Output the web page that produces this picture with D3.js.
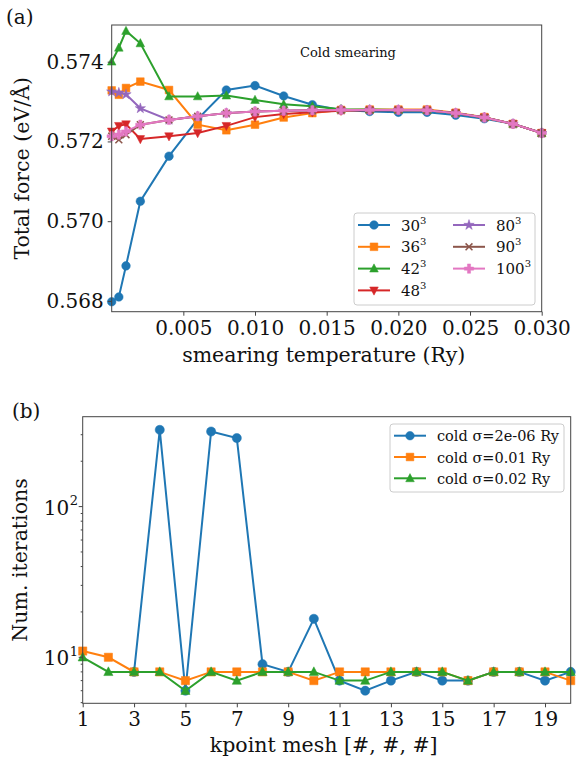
<!DOCTYPE html>
<html>
<head>
<meta charset="utf-8">
<script src="https://cdn.jsdelivr.net/npm/d3@7"></script>
<style>
  body { margin: 0; background: #fff; }
  text { font-family: "DejaVu Serif", serif; fill: #111; }
</style>
</head>
<body>
<div id="chart"></div>
<script>
////////////////////////////////////////////////////////////////////////
// Data for panel (a): total force vs smearing temperature
let smearing = [0.000002, 0.0005, 0.001, 0.002, 0.004, 0.006, 0.008, 0.010, 0.012,
  0.014, 0.016, 0.018, 0.020, 0.022, 0.024, 0.026, 0.028, 0.030];

let meshLabels = ["30", "36", "42", "48", "80", "90", "100"];

let force30 = [0.56798, 0.56810, 0.56888, 0.57050, 0.57163, 0.57256, 0.57329, 0.57340, 0.57314,
  0.57292, 0.57279, 0.57275, 0.57273, 0.57273, 0.57266, 0.57257, 0.57244, 0.57221];
let force36 = [0.57328, 0.57317, 0.57334, 0.57350, 0.57329, 0.57242, 0.57228, 0.57242, 0.57260,
  0.57271, 0.57279, 0.57280, 0.57280, 0.57280, 0.57272, 0.57261, 0.57244, 0.57221];
let force42 = [0.57400, 0.57435, 0.57477, 0.57446, 0.57313, 0.57313, 0.57315, 0.57304, 0.57293,
  0.57288, 0.57281, 0.57280, 0.57279, 0.57278, 0.57271, 0.57260, 0.57244, 0.57221];
let force48 = [0.57225, 0.57239, 0.57243, 0.57206, 0.57213, 0.57221, 0.57239, 0.57261, 0.57269,
  0.57273, 0.57277, 0.57278, 0.57278, 0.57278, 0.57271, 0.57260, 0.57244, 0.57221];
let force80 = [0.57325, 0.57322, 0.57318, 0.57283, 0.57254, 0.57263, 0.57271, 0.57275, 0.57277,
  0.57278, 0.57279, 0.57279, 0.57279, 0.57278, 0.57271, 0.57260, 0.57244, 0.57221];
let force90 = [0.57213, 0.57204, 0.57217, 0.57242, 0.57254, 0.57263, 0.57271, 0.57275, 0.57277,
  0.57278, 0.57279, 0.57279, 0.57279, 0.57278, 0.57271, 0.57260, 0.57244, 0.57221];
let force100 = [0.57213, 0.57217, 0.57225, 0.57242, 0.57254, 0.57263, 0.57271, 0.57275, 0.57277,
  0.57278, 0.57279, 0.57279, 0.57279, 0.57278, 0.57271, 0.57260, 0.57244, 0.57221];

let forceTicksX = [0.005, 0.010, 0.015, 0.020, 0.025, 0.030];
let forceTicksY = [0.568, 0.570, 0.572, 0.574];

////////////////////////////////////////////////////////////////////////
// Data for panel (b): number of iterations vs kpoint mesh
let kpoints = d3.range(1, 21);
let sigmaLabels = ["cold \u03c3=2e-06 Ry", "cold \u03c3=0.01 Ry", "cold \u03c3=0.02 Ry"];

let iterSmall = [null, null, 8, 323, 6, 315, 285, 9, 8, 18, 7, 6, 7, 8, 7, 7, 8, 8, 7, 8];
let iter001 = [11, 10, 8, 8, 7, 8, 8, 8, 8, 7, 8, 8, 8, 8, 8, 7, 8, 8, 8, 7];
let iter002 = [10, 8, 8, 8, 6, 8, 7, 8, 8, 8, 7, 7, 8, 8, 8, 7, 8, 8, 8, 8];

let kTicks = [1, 3, 5, 7, 9, 11, 13, 15, 17, 19];

////////////////////////////////////////////////////////////////////////
// canvas
let width = 587;
let height = 764;
let fontSize = 20;
let colors = ["#1f77b4", "#ff7f0e", "#2ca02c", "#d62728", "#9467bd", "#8c564b", "#e377c2"];

let svg = d3.select("#chart")
  .append("svg")
  .attr("width", width).attr("height", height);

// marker path for each matplotlib style, centred on 0,0
function marker(kind, s) {
  if (kind == "o") return d3.symbol(d3.symbolCircle, Math.PI * s * s)();
  if (kind == "s") return d3.symbol(d3.symbolSquare, 4 * s * s * 0.8)();
  if (kind == "^") return `M0,${-s * 1.1}L${s},${s * 0.8}L${-s},${s * 0.8}Z`;
  if (kind == "v") return `M0,${s * 1.1}L${s},${-s * 0.8}L${-s},${-s * 0.8}Z`;
  if (kind == "*") return d3.symbol(d3.symbolStar, s * s * 1.8)();
  if (kind == "x") return `M${-s * 0.8},${-s * 0.8}L${s * 0.8},${s * 0.8}M${-s * 0.8},${s * 0.8}L${s * 0.8},${-s * 0.8}`;
  if (kind == "P") return d3.symbol(d3.symbolCross, s * s * 2.6)();
}

function drawMarkers(g, pts, kind, color, s) {
  g.selectAll(null)
    .data(pts)
    .enter()
    .append("path")
    .attr("d", marker(kind, s))
    .attr("transform", d => `translate(${d[0]},${d[1]})`)
    .attr("fill", kind == "x" ? "none" : color)
    .attr("stroke", color)
    .attr("stroke-width", kind == "x" ? 1.5 : 0.5);
}

function supLabel(sel, base, sup, supSize) {
  sel.append("tspan").text(base);
  sel.append("tspan").text(sup).attr("font-size", supSize).attr("dy", -7);
}

function styleAxis(ax) {
  ax.select(".domain").remove();
  ax.selectAll("line").attr("stroke", "#444");
  ax.selectAll("text").attr("font-size", fontSize).attr("font-family", "DejaVu Serif").attr("fill", "#111");
}

////////////////////////////////////////////////////////////////////////
// Panel (a)
let a = { left: 111.7, right: 541.7, top: 25, bottom: 311.7 };

let xA = d3.scaleLinear().domain([0.000002, 0.030]).range([a.left, a.right]);
let yA = d3.scaleLinear().domain([0.56773, 0.57492]).range([a.bottom, a.top]);

let gA = svg.append("g");

let forceSeries = [force30, force36, force42, force48, force80, force90, force100];
let forceMarkers = ["o", "s", "^", "v", "*", "x", "P"];

forceSeries.forEach(function (series, i) {
  let pts = series.map((v, j) => [xA(smearing[j]), yA(v)]);
  gA.append("path")
    .attr("d", d3.line()(pts))
    .attr("fill", "none")
    .attr("stroke", colors[i])
    .attr("stroke-width", 2);
  drawMarkers(gA, pts, forceMarkers[i], colors[i], 4.3);
});

// frame
gA.append("rect")
  .attr("x", a.left).attr("y", a.top)
  .attr("width", a.right - a.left).attr("height", a.bottom - a.top)
  .attr("fill", "none").attr("stroke", "#444").attr("stroke-width", 1);

let xAxisA = gA.append("g")
  .attr("transform", `translate(0,${a.bottom})`)
  .call(d3.axisBottom(xA).tickValues(forceTicksX).tickFormat(d3.format(".3f")).tickSize(4).tickPadding(5));
let yAxisA = gA.append("g")
  .attr("transform", `translate(${a.left},0)`)
  .call(d3.axisLeft(yA).tickValues(forceTicksY).tickFormat(d3.format(".3f")).tickSize(4).tickPadding(4));
styleAxis(xAxisA);
styleAxis(yAxisA);

gA.append("text")
  .attr("x", (a.left + a.right) / 2 - 3).attr("y", 362)
  .attr("text-anchor", "middle").attr("font-size", fontSize + 0.5)
  .text("smearing temperature (Ry)");

gA.append("text")
  .attr("transform", `translate(29,${(a.top + a.bottom) / 2}) rotate(-90)`)
  .attr("text-anchor", "middle").attr("font-size", fontSize + 0.5)
  .text("Total force (eV/\u00c5)");

gA.append("text")
  .attr("x", 300).attr("y", 57)
  .attr("font-size", 13)
  .text("Cold smearing");

svg.append("text").attr("x", 6).attr("y", 24).attr("font-size", fontSize).text("(a)");

// legend for (a), two columns
let legA = gA.append("g");
legA.append("rect")
  .attr("x", 354).attr("y", 213).attr("width", 181).attr("height", 92).attr("rx", 3)
  .attr("fill", "#fff").attr("fill-opacity", 0.8).attr("stroke", "#ccc");

meshLabels.forEach(function (lab, i) {
  let col = i < 4 ? 0 : 1;
  let row = i < 4 ? i : i - 4;
  let x0 = 358 + col * 95;
  let y0 = 225 + row * 21.8;
  legA.append("line")
    .attr("x1", x0).attr("x2", x0 + 32).attr("y1", y0).attr("y2", y0)
    .attr("stroke", colors[i]).attr("stroke-width", 2);
  drawMarkers(legA, [[x0 + 16, y0]], forceMarkers[i], colors[i], 4.3);
  let t = legA.append("text")
    .attr("x", x0 + 43).attr("y", y0 + 5.5).attr("font-size", 15);
  supLabel(t, lab, "3", 10);
});

////////////////////////////////////////////////////////////////////////
// Panel (b)
let b = { left: 82.7, right: 570.7, top: 416.7, bottom: 703.3 };

let xB = d3.scaleLinear().domain([1, 20]).range([b.left, b.right]);
let yB = d3.scaleLog().domain([4.95, 395]).range([b.bottom, b.top]);

let gB = svg.append("g");
let iterSeries = [iterSmall, iter001, iter002];
let iterMarkers = ["o", "s", "^"];

iterSeries.forEach(function (series, i) {
  let pts = [];
  series.forEach(function (v, j) {
    if (v != null) pts.push([xB(kpoints[j]), yB(v)]);
  });
  gB.append("path")
    .attr("d", d3.line()(pts))
    .attr("fill", "none")
    .attr("stroke", colors[i])
    .attr("stroke-width", 2);
  drawMarkers(gB, pts, iterMarkers[i], colors[i], 4.6);
});

gB.append("rect")
  .attr("x", b.left).attr("y", b.top)
  .attr("width", b.right - b.left).attr("height", b.bottom - b.top)
  .attr("fill", "none").attr("stroke", "#444").attr("stroke-width", 1);

let xAxisB = gB.append("g")
  .attr("transform", `translate(0,${b.bottom})`)
  .call(d3.axisBottom(xB).tickValues(kTicks).tickFormat(d3.format("d")).tickSize(4).tickPadding(5));
styleAxis(xAxisB);

// log axis: major ticks with superscript labels, minor ticks without
let minorTicks = [5, 6, 7, 8, 9, 20, 30, 40, 50, 60, 70, 80, 90, 200, 300];
gB.selectAll(".minor")
  .data(minorTicks)
  .enter()
  .append("line")
  .attr("x1", b.left - 2).attr("x2", b.left)
  .attr("y1", d => yB(d)).attr("y2", d => yB(d))
  .attr("stroke", "#444");

let majorTicks = [10, 100];
majorTicks.forEach(function (v) {
  gB.append("line")
    .attr("x1", b.left - 4).attr("x2", b.left)
    .attr("y1", yB(v)).attr("y2", yB(v))
    .attr("stroke", "#444");
  gB.append("text")
    .attr("x", b.left - 13.5).attr("y", yB(v) + 8)
    .attr("text-anchor", "end").attr("font-size", fontSize)
    .text("10");
  gB.append("text")
    .attr("x", b.left - 13).attr("y", yB(v) - 1.5)
    .attr("font-size", 13)
    .text(v == 10 ? "1" : "2");
});

gB.append("text")
  .attr("x", (b.left + b.right) / 2 - 3).attr("y", 752)
  .attr("text-anchor", "middle").attr("font-size", fontSize + 0.5)
  .text("kpoint mesh [#, #, #]");

gB.append("text")
  .attr("transform", `translate(27,${(b.top + b.bottom) / 2}) rotate(-90)`)
  .attr("text-anchor", "middle").attr("font-size", fontSize + 0.5)
  .text("Num. iterations");

svg.append("text").attr("x", 12).attr("y", 418).attr("font-size", fontSize).text("(b)");

let legB = gB.append("g");
legB.append("rect")
  .attr("x", 390).attr("y", 424).attr("width", 174).attr("height", 68).attr("rx", 3)
  .attr("fill", "#fff").attr("fill-opacity", 0.8).attr("stroke", "#ccc");

sigmaLabels.forEach(function (lab, i) {
  let y0 = 435.7 + i * 21.3;
  legB.append("line")
    .attr("x1", 394).attr("x2", 426).attr("y1", y0).attr("y2", y0)
    .attr("stroke", colors[i]).attr("stroke-width", 2);
  drawMarkers(legB, [[410, y0]], iterMarkers[i], colors[i], 4.3);
  legB.append("text")
    .attr("x", 437).attr("y", y0 + 5.5).attr("font-size", 14.5)
    .text(lab);
});
</script>
</body>
</html>
